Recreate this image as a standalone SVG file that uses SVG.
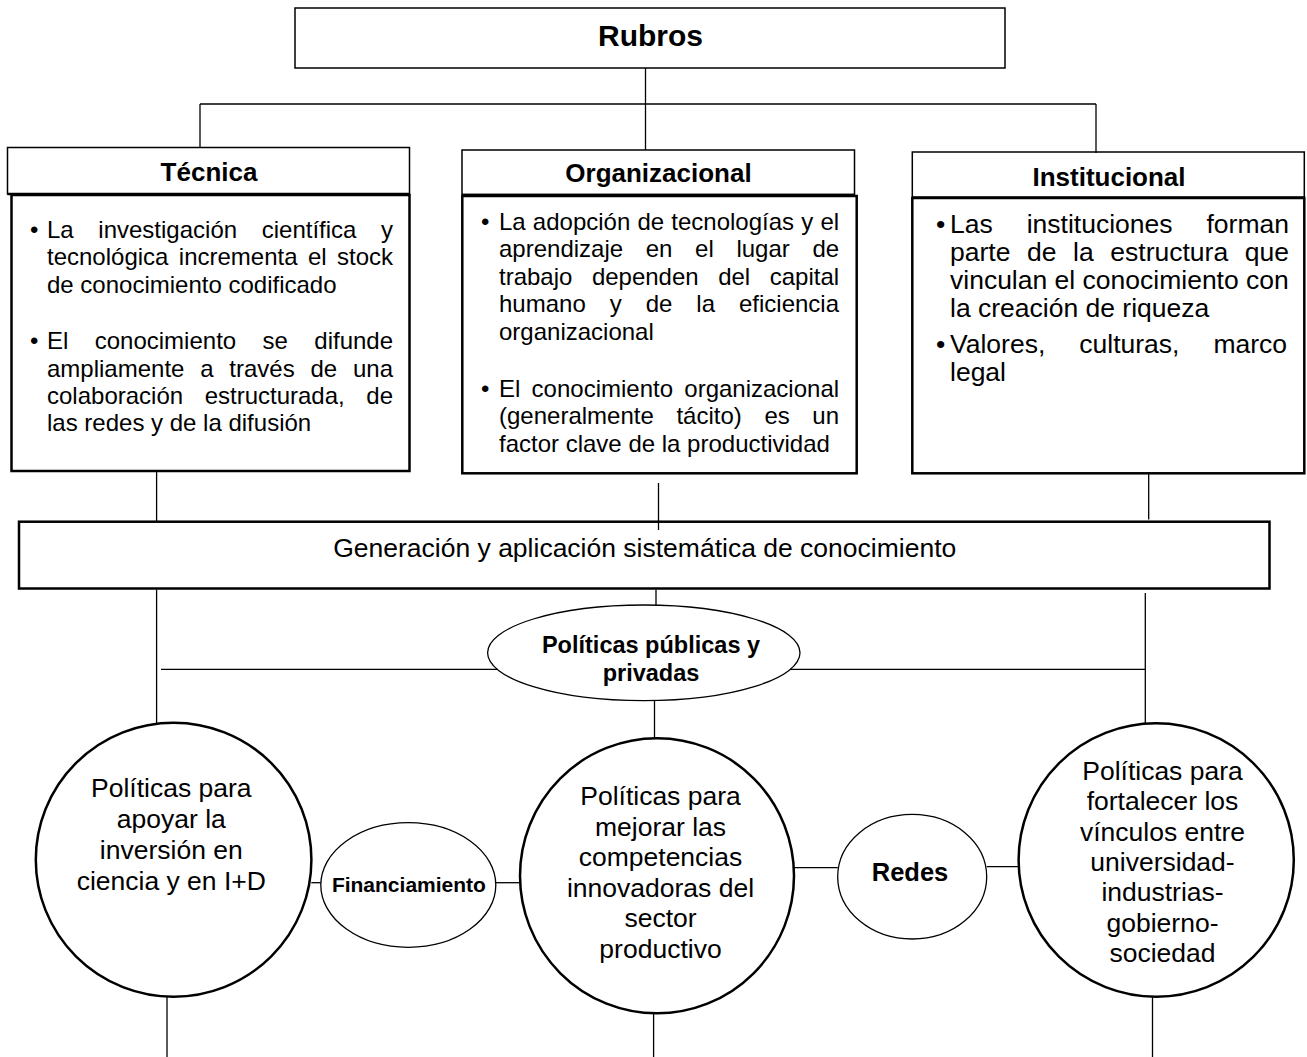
<svg xmlns="http://www.w3.org/2000/svg" width="1307" height="1057" viewBox="0 0 1307 1057">
<style>
text{font-family:"Liberation Sans",Arial,Helvetica,sans-serif;fill:#000}
.hd{font-weight:bold;font-size:26px;text-anchor:middle}
.bd{font-size:24px}
.bi{font-size:26.5px}
.ct{font-size:26.5px;text-anchor:middle}
.box{fill:#fff;stroke:#000;stroke-width:2.5}
.hbox{fill:#fff;stroke:#000;stroke-width:1.5}
.big{fill:#fff;stroke:#000;stroke-width:2.5}
.sml{fill:#fff;stroke:#000;stroke-width:1.3}
.cn line{stroke:#000;stroke-width:1.3}
</style>
<rect width="1307" height="1057" fill="#fff"/>
<g id="rubros">
<rect class="hbox" x="295" y="8" width="710" height="60"/>
<text class="hd" x="650.5" y="46" style="font-size:30px">Rubros</text>
</g>
<g id="tecnica">
<rect class="hbox" x="7.5" y="147.5" width="402" height="46.5"/>
<text class="hd" x="209" y="180.7">Técnica</text>
<rect class="box" x="11.5" y="195" width="398" height="276"/>
<line x1="7.5" y1="194" x2="409.5" y2="194" stroke="#000" stroke-width="2.5"/>
<text class="bd" x="30" y="238">•</text>
<text class="bd" x="47" y="238" style="word-spacing:17.96px">La investigación científica y</text>
<text class="bd" x="47" y="265.3" style="word-spacing:3.73px">tecnológica incrementa el stock</text>
<text class="bd" x="47" y="292.6">de conocimiento codificado</text>
<text class="bd" x="30" y="349.3">•</text>
<text class="bd" x="47" y="349.3" style="word-spacing:19.73px">El conocimiento se difunde</text>
<text class="bd" x="47" y="376.6" style="word-spacing:9.13px">ampliamente a través de una</text>
<text class="bd" x="47" y="403.9" style="word-spacing:14.9px">colaboración estructurada, de</text>
<text class="bd" x="47" y="431.2">las redes y de la difusión</text>
</g>
<g id="organizacional">
<rect class="hbox" x="462" y="150" width="392.5" height="44.5"/>
<text class="hd" x="658.5" y="182">Organizacional</text>
<rect class="box" x="462.3" y="196" width="394.4" height="277.3"/>
<line x1="462" y1="195" x2="855" y2="195" stroke="#000" stroke-width="2.5"/>
<text class="bd" x="481" y="229.5">•</text>
<text class="bd" x="499" y="229.5" style="word-spacing:0.5px">La adopción de tecnologías y el</text>
<text class="bd" x="499" y="257" style="word-spacing:15.97px">aprendizaje en el lugar de</text>
<text class="bd" x="499" y="284.5" style="word-spacing:12.83px">trabajo dependen del capital</text>
<text class="bd" x="499" y="312" style="word-spacing:17.3px">humano y de la eficiencia</text>
<text class="bd" x="499" y="339.5">organizacional</text>
<text class="bd" x="481" y="396.5">•</text>
<text class="bd" x="499" y="396.5" style="word-spacing:4.6px">El conocimiento organizacional</text>
<text class="bd" x="499" y="424" style="word-spacing:15.97px">(generalmente tácito) es un</text>
<text class="bd" x="499" y="451.5">factor clave de la productividad</text>
</g>
<g id="institucional">
<rect class="hbox" x="912.3" y="152" width="392" height="45"/>
<text class="hd" x="1109" y="186">Institucional</text>
<rect class="box" x="912.3" y="198" width="392" height="275.3"/>
<text class="bi" x="936" y="232.5">•</text>
<text class="bi" x="950" y="232.5" style="word-spacing:26.6px">Las instituciones forman</text>
<text class="bi" x="950" y="260.5" style="word-spacing:9.25px">parte de la estructura que</text>
<text class="bi" x="950" y="288.5">vinculan el conocimiento con</text>
<text class="bi" x="950" y="316.5">la creación de riqueza</text>
<text class="bi" x="936" y="352.5">•</text>
<text class="bi" x="950" y="352.5" style="word-spacing:26.65px">Valores, culturas, marco</text>
<text class="bi" x="950" y="380.5">legal</text>
</g>
<g id="generacion">
<rect class="box" x="19" y="521.7" width="1250.5" height="66.8"/>
<text class="ct" x="644.7" y="557">Generación y aplicación sistemática de conocimiento</text>
</g>
<g id="politicas-publicas">
<ellipse class="sml" cx="643.8" cy="652.8" rx="156.2" ry="47.8"/>
<text class="hd" x="651" y="653.3" style="font-size:23.5px">Políticas públicas y</text>
<text class="hd" x="651" y="680.7" style="font-size:23.5px">privadas</text>
</g>
<g id="circulo-izq">
<ellipse class="big" cx="173.6" cy="859.7" rx="137.8" ry="137"/>
<text class="ct" x="171.3" y="797">Políticas para</text>
<text class="ct" x="171.3" y="828">apoyar la</text>
<text class="ct" x="171.3" y="859">inversión en</text>
<text class="ct" x="171.3" y="890">ciencia y en I+D</text>
</g>
<g id="financiamiento">
<ellipse class="sml" cx="408.3" cy="885" rx="87.5" ry="62.3"/>
<text class="hd" x="408.9" y="892" style="font-size:21px">Financiamiento</text>
</g>
<g id="circulo-centro">
<ellipse class="big" cx="657" cy="875.8" rx="137" ry="137.5"/>
<text class="ct" x="660.5" y="805">Políticas para</text>
<text class="ct" x="660.5" y="835.5">mejorar las</text>
<text class="ct" x="660.5" y="866">competencias</text>
<text class="ct" x="660.5" y="896.5">innovadoras del</text>
<text class="ct" x="660.5" y="927">sector</text>
<text class="ct" x="660.5" y="957.5">productivo</text>
</g>
<g id="redes">
<ellipse class="sml" cx="912.2" cy="876.7" rx="74.5" ry="62.3"/>
<text class="hd" x="910" y="881" style="font-size:25.5px">Redes</text>
</g>
<g id="circulo-der">
<ellipse class="big" cx="1156.2" cy="860" rx="137.6" ry="136.7"/>
<text class="ct" x="1162.5" y="780">Políticas para</text>
<text class="ct" x="1162.5" y="810.3">fortalecer los</text>
<text class="ct" x="1162.5" y="840.6">vínculos entre</text>
<text class="ct" x="1162.5" y="870.9">universidad-</text>
<text class="ct" x="1162.5" y="901.2">industrias-</text>
<text class="ct" x="1162.5" y="931.5">gobierno-</text>
<text class="ct" x="1162.5" y="961.8">sociedad</text>
</g>
<g class="cn" id="connectors">
<line x1="645.5" y1="68" x2="645.5" y2="150"/>
<line x1="200" y1="104" x2="1096" y2="104"/>
<line x1="200" y1="104" x2="200" y2="147.5"/>
<line x1="1096" y1="104" x2="1096" y2="153"/>
<line x1="156.6" y1="471" x2="156.6" y2="521"/>
<line x1="658.5" y1="483" x2="658.5" y2="530"/>
<line x1="1148.7" y1="472" x2="1148.7" y2="519.5"/>
<line x1="156.6" y1="589.5" x2="156.6" y2="723"/>
<line x1="656" y1="589.5" x2="656" y2="605.2"/>
<line x1="1145.3" y1="593" x2="1145.3" y2="723.5"/>
<line x1="161" y1="669.3" x2="497.5" y2="669.3"/>
<line x1="790" y1="669.3" x2="1145.3" y2="669.3"/>
<line x1="654.5" y1="700.6" x2="654.5" y2="738.3"/>
<line x1="311.3" y1="882.7" x2="320.9" y2="882.7"/>
<line x1="495.8" y1="882.7" x2="520" y2="882.7"/>
<line x1="794" y1="867.7" x2="837.8" y2="867.7"/>
<line x1="986.7" y1="866.7" x2="1018.7" y2="866.7"/>
<line x1="167" y1="996.7" x2="167" y2="1057"/>
<line x1="653.6" y1="1013.3" x2="653.6" y2="1057"/>
<line x1="1152.5" y1="996.7" x2="1152.5" y2="1057"/>
</g>
</svg>
